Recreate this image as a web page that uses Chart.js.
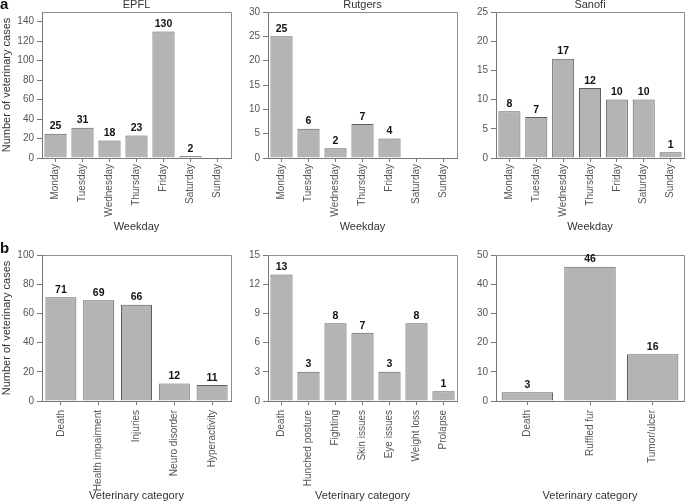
<!DOCTYPE html>
<html>
<head>
<meta charset="utf-8">
<script src="https://cdn.jsdelivr.net/npm/chart.js@4.4.1/dist/chart.umd.min.js"></script>
<style>
    body { margin: 0; background: #fff; }
    canvas { position: absolute; }
</style>
</head>
<body>
<canvas id="epfl_weekday" width="236" height="240" style="left:0;top:0"></canvas>
<canvas id="rutgers_weekday" width="226" height="240" style="left:236px;top:0"></canvas>
<canvas id="sanofi_weekday" width="223" height="240" style="left:462px;top:0"></canvas>
<canvas id="epfl_category" width="236" height="263" style="left:0;top:240px"></canvas>
<canvas id="rutgers_category" width="226" height="263" style="left:236px;top:240px"></canvas>
<canvas id="sanofi_category" width="223" height="263" style="left:462px;top:240px"></canvas>
<script>
// weekday counts (panel a)
var weekdays = ["Monday", "Tuesday", "Wednesday", "Thursday", "Friday", "Saturday", "Sunday"];
var epflWeekday = [25, 31, 18, 23, 130, 2, 0];
var rutgersWeekday = [25, 6, 2, 7, 4, 0, 0];
var sanofiWeekday = [8, 7, 17, 12, 10, 10, 1];

// veterinary categories (panel b)
var epflCategories = ["Death", "Health impairment", "Injuries", "Neuro disorder", "Hyperactivity"];
var epflCategoryCases = [71, 69, 66, 12, 11];
var rutgersCategories = ["Death", "Hunched posture", "Fighting", "Skin issues", "Eye issues", "Weight loss", "Prolapse"];
var rutgersCategoryCases = [13, 3, 8, 7, 3, 8, 1];
var sanofiCategories = ["Death", "Ruffled fur", "Tumor/ulcer"];
var sanofiCategoryCases = [3, 46, 16];

(function () {
    "use strict";

    Chart.defaults.font.family = '"Liberation Sans", Arial, sans-serif';
    Chart.defaults.animation = false;

    // box frame, value labels, titles and panel letters
    var decorations = {
        id: "decorations",
        afterDatasetsDraw: function (chart, args, opts) {
            var ctx = chart.ctx;
            var area = chart.chartArea;
            ctx.save();
            ctx.strokeStyle = "#8c8c8c";
            ctx.lineWidth = 1;
            ctx.beginPath();
            ctx.moveTo(area.left, Math.round(area.top) + 0.5);
            ctx.lineTo(Math.round(area.right) + 0.5, Math.round(area.top) + 0.5);
            ctx.lineTo(Math.round(area.right) + 0.5, area.bottom);
            ctx.stroke();

            var values = chart.data.datasets[0].data;
            ctx.font = 'bold 10.5px "Liberation Sans", Arial, sans-serif';
            ctx.fillStyle = "#111";
            ctx.textAlign = "center";
            ctx.textBaseline = "bottom";
            chart.getDatasetMeta(0).data.forEach(function (bar, i) {
                if (values[i] > 0) {
                    ctx.fillText(values[i], bar.x, bar.y - 2);
                }
            });

            if (opts.title) {
                ctx.font = '11px "Liberation Sans", Arial, sans-serif';
                ctx.fillStyle = "#333";
                ctx.textBaseline = "middle";
                ctx.fillText(opts.title, (area.left + area.right) / 2, area.top - 7);
            }
            if (opts.letter) {
                ctx.font = 'bold 15px "Liberation Sans", Arial, sans-serif';
                ctx.fillStyle = "#111";
                ctx.textAlign = "left";
                ctx.textBaseline = "alphabetic";
                ctx.fillText(opts.letter, 0, opts.letterY);
            }
            ctx.restore();
        },
    };

    function make_chart(id, labels, data, cfg) {
        var ctx = document.getElementById(id).getContext("2d");
        return new Chart(ctx, {
            type: "bar",
            data: {
                labels: labels,
                datasets: [
                    {
                        data: data,
                        backgroundColor: "#b4b4b4",
                        borderColor: "#5e5e5e",
                        borderWidth: 1,
                        barPercentage: 0.82,
                        categoryPercentage: 1,
                    },
                ],
            },
            options: {
                responsive: false,
                layout: { padding: { top: cfg.top, right: cfg.right, bottom: 0, left: 0 } },
                plugins: {
                    legend: { display: false },
                    tooltip: { enabled: false },
                    decorations: { title: cfg.title, letter: cfg.letter, letterY: cfg.letterY },
                },
                scales: {
                    x: {
                        grid: { drawOnChartArea: false, offset: false, tickLength: 4, color: "#777" },
                        border: { color: "#777" },
                        ticks: {
                            minRotation: 90,
                            maxRotation: 90,
                            autoSkip: false,
                            padding: cfg.labelPad,
                            color: "#555",
                            font: { size: 10 },
                        },
                        title: {
                            display: true,
                            text: cfg.xTitle,
                            color: "#333",
                            font: { size: 11 },
                            padding: { top: 0, bottom: cfg.titlePad },
                        },
                        afterFit: function (scale) {
                            scale.height = cfg.xHeight;
                        },
                    },
                    y: {
                        min: 0,
                        max: cfg.max,
                        ticks: { stepSize: cfg.step, includeBounds: false, padding: 3, color: "#555", font: { size: 10 } },
                        grid: { drawOnChartArea: false, tickLength: 5, color: "#777" },
                        border: { color: "#777" },
                        title: {
                            display: !!cfg.yTitle,
                            text: cfg.yTitle || "",
                            color: "#333",
                            font: { size: 11 },
                            padding: 0,
                        },
                        afterFit: function (scale) {
                            scale.width = cfg.yWidth;
                        },
                    },
                },
            },
            plugins: [decorations],
        });
    }

    var yLabel = "Number of veterinary cases";

    make_chart("epfl_weekday", weekdays, epflWeekday, {
        title: "EPFL", letter: "a", letterY: 9, yTitle: yLabel, xTitle: "Weekday",
        max: 150, step: 20, top: 12, right: 5, yWidth: 42, xHeight: 82, labelPad: 2, titlePad: 6,
    });
    make_chart("rutgers_weekday", weekdays, rutgersWeekday, {
        title: "Rutgers", xTitle: "Weekday",
        max: 30, step: 5, top: 12, right: 5, yWidth: 32, xHeight: 82, labelPad: 2, titlePad: 6,
    });
    make_chart("sanofi_weekday", weekdays, sanofiWeekday, {
        title: "Sanofi", xTitle: "Weekday",
        max: 25, step: 5, top: 12, right: 1, yWidth: 34, xHeight: 82, labelPad: 2, titlePad: 6,
    });
    make_chart("epfl_category", epflCategories, epflCategoryCases, {
        letter: "b", letterY: 13, yTitle: yLabel, xTitle: "Veterinary category",
        max: 100, step: 20, top: 15, right: 5, yWidth: 42, xHeight: 102, labelPad: 5, titlePad: 0,
    });
    make_chart("rutgers_category", rutgersCategories, rutgersCategoryCases, {
        xTitle: "Veterinary category",
        max: 15, step: 3, top: 15, right: 5, yWidth: 32, xHeight: 102, labelPad: 5, titlePad: 0,
    });
    make_chart("sanofi_category", sanofiCategories, sanofiCategoryCases, {
        xTitle: "Veterinary category",
        max: 50, step: 10, top: 15, right: 1, yWidth: 34, xHeight: 102, labelPad: 5, titlePad: 0,
    });
})();
</script>
</body>
</html>
